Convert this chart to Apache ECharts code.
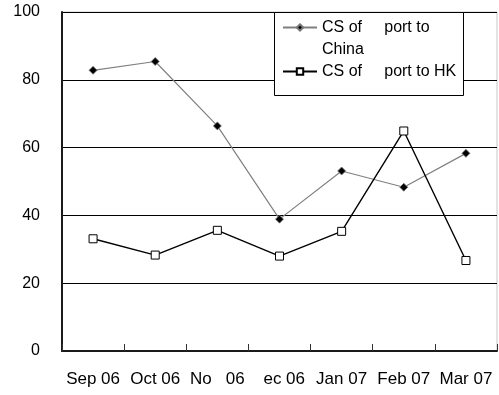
<!DOCTYPE html>
<html>
<head>
<meta charset="utf-8">
<script src="https://cdn.jsdelivr.net/npm/echarts@6/dist/echarts.min.js"></script>
<style>
  html, body { margin: 0; padding: 0; background: #fff; }
  #chart { width: 499px; height: 395px; }
</style>
</head>
<body>
<div id="chart"></div>
<script>
// Monthly figures, Sep 2006 – Mar 2007
const categories = ['Sep 06', 'Oct 06', 'No   06', '  ec 06', 'Jan 07', 'Feb 07', 'Mar 07'];
const seriesNames = ['CS of     port to\nChina', 'CS of     port to HK'];
const chinaValues = [82.8, 85.4, 66.4, 38.9, 53.1, 48.3, 58.3];
const hkValues = [33.1, 28.3, 35.6, 28.0, 35.3, 64.9, 26.7];
const yTicks = { min: 0, max: 100, interval: 20 };

const FONT = 'Liberation Sans, Arial, sans-serif';
const LINE_H = 22;
const chart = echarts.init(document.getElementById('chart'), null, { renderer: 'canvas' });

chart.setOption({
  animation: false,
  backgroundColor: '#ffffff',
  textStyle: { fontFamily: FONT },
  grid: {
    left: 62, right: 2, top: 12, bottom: 44,
    show: true, borderColor: '#c8c8c8', borderWidth: 1, backgroundColor: 'transparent'
  },
  // Frame behind the legend entries
  graphic: [{
    type: 'rect',
    z: 3,
    shape: { x: 274.5, y: 12.5, width: 189, height: 83 },
    style: { fill: '#ffffff', stroke: '#000000', lineWidth: 1 }
  }],
  legend: {
    orient: 'vertical',
    left: 274,
    top: 27.5 - LINE_H * 1.5,
    padding: [0, 5, 0, 8],
    itemGap: 0,
    itemWidth: 34,
    itemHeight: 8,
    z: 5,
    textStyle: { fontFamily: FONT, fontSize: 16, color: '#000', lineHeight: LINE_H },
    // a blank leading line keeps the marker level with the first text line
    formatter: name => (name.indexOf('\n') >= 0 ? '\n' + name : name),
    data: seriesNames
  },
  xAxis: {
    type: 'category',
    data: categories,
    boundaryGap: true,
    axisLine: { lineStyle: { color: '#1a1a1a', width: 2 } },
    axisTick: { show: true, inside: true, length: 7, interval: 0, lineStyle: { color: '#333', width: 1 } },
    axisLabel: { interval: 0, margin: 20, color: '#000', fontSize: 17, fontFamily: FONT },
    splitLine: { show: false }
  },
  yAxis: {
    type: 'value',
    min: yTicks.min, max: yTicks.max, interval: yTicks.interval,
    axisLine: { show: true, lineStyle: { color: '#1a1a1a', width: 2 } },
    axisTick: { show: false },
    axisLabel: { margin: 22, color: '#000', fontSize: 16, fontFamily: FONT },
    splitLine: { show: true, lineStyle: { color: '#000', width: 1 } }
  },
  series: [
    {
      name: seriesNames[0],
      type: 'line',
      data: chinaValues,
      symbol: 'diamond',
      symbolSize: 8,
      itemStyle: { color: '#000', borderColor: '#777', borderWidth: 0.8 },
      lineStyle: { color: '#808080', width: 1.2 },
      z: 2
    },
    {
      name: seriesNames[1],
      type: 'line',
      data: hkValues,
      symbol: 'rect',
      symbolSize: 8,
      itemStyle: { color: '#fff', borderColor: '#000', borderWidth: 1 },
      lineStyle: { color: '#000', width: 1.4 },
      z: 2
    }
  ]
});
</script>
</body>
</html>
